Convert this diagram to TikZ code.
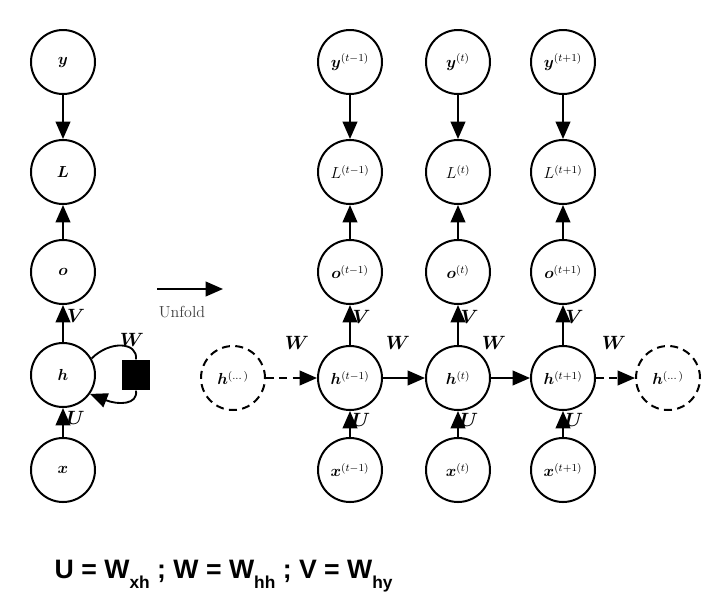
\documentclass[tikz,border=0pt]{standalone}
\usepackage{amsmath,bm}
\usepackage{fontspec}
\newfontfamily\arialf{Liberation Sans}
\usetikzlibrary{arrows.meta}
\begin{document}
\begin{tikzpicture}[x=0.75pt,y=-0.75pt,
  nd/.style={circle,draw,line width=1.5pt,minimum size=48pt,inner sep=0pt,font=\large},
  dnd/.style={nd,dash pattern=on 6pt off 4pt},
  ar/.style={line width=1.4pt,-{Triangle[length=13pt,width=11pt]}},
  lb/.style={font=\Large}]
\useasboundingbox (0,0) rectangle (706,615);
% left column
\node[nd] (y) at (63,62) {$\bm{y}$};
\node[nd] (L) at (63,172) {$\bm{L}$};
\node[nd] (o) at (63,272) {$\bm{o}$};
\node[nd] (h) at (63,375) {$\bm{h}$};
\node[nd] (x) at (63,470) {$\bm{x}$};
\draw[ar] (y) -- (L);
\draw[ar] (o) -- (L);
\draw[ar] (h) -- node[lb,right,pos=0.7,xshift=-1pt]{$\bm{V}$} (o);
\draw[ar] (x) -- node[lb,right,pos=0.65,xshift=-1pt]{$\bm{U}$} (h);
\node[fill=black,minimum width=21pt,minimum height=23pt,inner sep=0pt] (sq) at (136,375) {};
\draw[line width=1.4pt] (h.30) .. controls (110,340) and (138,342) .. (sq.north);
\draw[ar] (sq.south) .. controls (138,405) and (118,405) .. (h.-35);
\node[lb] (wl) at (132,340) {$\bm{W}$};
% unfold
\coordinate (u1) at (157,289);
\coordinate (u2) at (223,289);
\draw[ar] (u1) -- (u2);
\node[font=\large,text=black!75] (uf) at (182,312) {Unfold};
% right
\node[dnd] (hl) at (233,378) {$\bm{h}^{(\dots)}$};
\node[dnd] (hr) at (668,378) {$\bm{h}^{(\dots)}$};
\foreach \n/\xx/\s in {a/350/t-1,b/458/t,c/563/t+1}{
  \node[nd] (y\n) at (\xx,62) {$\bm{y}^{(\s)}$};
  \node[nd] (L\n) at (\xx,172) {$L^{(\s)}$};
  \node[nd] (o\n) at (\xx,272) {$\bm{o}^{(\s)}$};
  \node[nd] (h\n) at (\xx,378) {$\bm{h}^{(\s)}$};
  \node[nd] (x\n) at (\xx,470) {$\bm{x}^{(\s)}$};
  \draw[ar] (y\n) -- (L\n);
  \draw[ar] (o\n) -- (L\n);
  \draw[ar] (h\n) -- node[lb,right,pos=0.7,xshift=-2pt]{$\bm{V}$} (o\n);
  \draw[ar] (x\n) -- node[lb,right,pos=0.65,xshift=-2pt]{$\bm{U}$} (h\n);
}
\draw[ar,dash pattern=on 6pt off 4pt] (hl) -- (ha);
\draw[ar] (ha) -- (hb);
\draw[ar] (hb) -- (hc);
\draw[ar,dash pattern=on 6pt off 4pt] (hc) -- (hr);
\node[lb] (w1) at (297,343) {$\bm{W}$};
\node[lb] (w2) at (398,343) {$\bm{W}$};
\node[lb] (w3) at (494,343) {$\bm{W}$};
\node[lb] (w4) at (614,343) {$\bm{W}$};
% formula
\node[anchor=west,font=\arialf\bfseries\fontsize{20pt}{24pt}\selectfont] (f) at (50,576)
 {U = W\raisebox{-0.35em}{\fontsize{13pt}{14pt}\selectfont xh} ; W = W\raisebox{-0.35em}{\fontsize{13pt}{14pt}\selectfont hh} ; V = W\raisebox{-0.35em}{\fontsize{13pt}{14pt}\selectfont hy}};
\end{tikzpicture}
\end{document}
